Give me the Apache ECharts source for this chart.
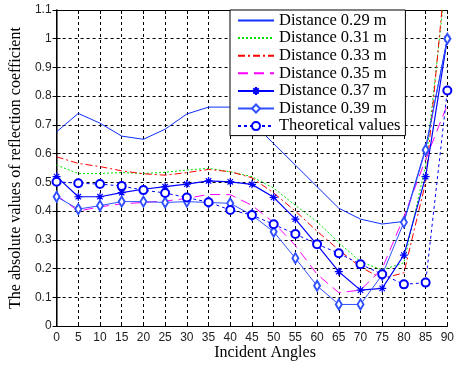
<!DOCTYPE html>
<html>
<head>
<meta charset="utf-8">
<script src="https://cdn.jsdelivr.net/npm/echarts@6/dist/echarts.min.js"></script>
<style>
  html, body {margin: 0; padding: 0; background: #fff;}
  #chart {width: 457px; height: 367px;}
</style>
</head>
<body>
<div id="chart"></div>
<script>
// incident angles (deg)
const angles = [0, 5, 10, 15, 20, 25, 30, 35, 40, 45, 50, 55, 60, 65, 70, 75, 80, 85, 90]
const yTicks = [0, 0.1, 0.2, 0.3, 0.4, 0.5, 0.6, 0.7, 0.8, 0.9, 1, 1.1]

const d029 = [0.676, 0.74, 0.706, 0.661, 0.65, 0.685, 0.738, 0.762, 0.762, 0.71, 0.635, 0.56, 0.485, 0.41, 0.372, 0.355, 0.364, 0.62, 1.0]
const d031 = [0.56, 0.531, 0.531, 0.534, 0.531, 0.535, 0.543, 0.549, 0.537, 0.52, 0.48, 0.42, 0.363, 0.29, 0.224, 0.195, 0.22, 0.56, 1.25]
const d033 = [0.589, 0.566, 0.555, 0.54, 0.53, 0.525, 0.534, 0.545, 0.537, 0.516, 0.463, 0.40, 0.33, 0.265, 0.205, 0.165, 0.185, 0.5, 1.3]
const d035 = [0.455, 0.40, 0.415, 0.425, 0.43, 0.435, 0.444, 0.458, 0.457, 0.42, 0.36, 0.28, 0.18, 0.116, 0.125, 0.2, 0.38, 0.58, 0.77]
const d037 = [0.52, 0.45, 0.45, 0.464, 0.476, 0.485, 0.494, 0.505, 0.502, 0.493, 0.448, 0.372, 0.282, 0.189, 0.125, 0.131, 0.247, 0.52, 1.0]
const d039 = [0.45, 0.407, 0.419, 0.433, 0.433, 0.43, 0.433, 0.43, 0.427, 0.386, 0.328, 0.236, 0.14, 0.075, 0.075, 0.178, 0.361, 0.613, 1.0]
const theory = [0.502, 0.497, 0.494, 0.487, 0.473, 0.463, 0.447, 0.431, 0.404, 0.386, 0.354, 0.32, 0.285, 0.253, 0.215, 0.18, 0.145, 0.151, 0.82]

const names = ['Distance 0.29 m', 'Distance 0.31 m', 'Distance 0.33 m', 'Distance 0.35 m',
  'Distance 0.37 m', 'Distance 0.39 m', 'Theoretical values']

const serif = 'Liberation Serif'
const sans = 'Liberation Sans'
const asterisk = 'path://M0,5L10,5M5,0L5,10M1.6,1.6L8.4,8.4M8.4,1.6L1.6,8.4'

const pairs = vals => angles.map((a, i) => [a, vals[i]])

const chart = echarts.init(document.getElementById('chart'))
chart.setOption({
  animation: false,
  backgroundColor: '#fff',
  grid: {left: 52, right: 4, top: 10, bottom: 41},
  legend: {
    orient: 'vertical',
    left: 230,
    top: 10,
    padding: [2, 5, 1, 7],
    itemGap: 0.6,
    itemWidth: 36,
    itemHeight: 10,
    backgroundColor: '#fff',
    borderColor: '#000',
    borderWidth: 1,
    textStyle: {fontFamily: serif, fontSize: 16.5, color: '#000'},
    // the plain-line entries get no marker in the key
    data: names.map((n, i) => i < 4 ? {name: n, itemStyle: {opacity: 0}} : {name: n})
  },
  xAxis: [{
    type: 'value',
    min: 0,
    max: 90,
    interval: 5,
    axisLine: {lineStyle: {color: '#000', width: 1}},
    axisTick: {inside: true, length: 4, lineStyle: {color: '#000'}},
    axisLabel: {fontFamily: sans, fontSize: 12, color: '#222', margin: 6},
    splitLine: {show: true, lineStyle: {color: '#000', type: [3, 3], width: 1}}
  }, {
    type: 'value', position: 'top', min: 0, max: 90, interval: 5,
    axisLine: {show: true, onZero: false, lineStyle: {color: '#000'}},
    axisTick: {inside: true, length: 4, lineStyle: {color: '#000'}},
    axisLabel: {show: false}, splitLine: {show: false}
  }],
  yAxis: [{
    type: 'value',
    min: 0,
    max: 1.1,
    interval: 0.1,
    name: 'The absolute values of reflection coefficient',
    nameLocation: 'middle',
    nameGap: 28,
    nameTextStyle: {fontFamily: serif, fontSize: 16, color: '#000'},
    axisLine: {show: true, lineStyle: {color: '#444', width: 1.5}},
    axisTick: {show: true, inside: true, length: 4, lineStyle: {color: '#000'}},
    axisLabel: {fontFamily: sans, fontSize: 12, color: '#222', margin: 5,
      formatter: v => String(+v.toFixed(1))},
    splitLine: {show: true, lineStyle: {color: '#000', type: [3, 3], width: 1}}
  }, {
    type: 'value', position: 'right', min: 0, max: 1.1, interval: 0.1,
    axisLine: {show: true, lineStyle: {color: '#000'}},
    axisTick: {show: true, inside: true, length: 4, lineStyle: {color: '#000'}},
    axisLabel: {show: false}, splitLine: {show: false}
  }],
  graphic: [{
    type: 'text',
    style: {x: 265, y: 353, text: 'Incident Angles', align: 'center', verticalAlign: 'middle',
      fontFamily: serif, fontSize: 16, fill: '#000'}
  }],
  series: [
    {name: names[0], data: pairs(d029), color: '#1030ff',
      symbol: 'none', lineStyle: {type: 'solid'}},
    {name: names[1], data: pairs(d031), color: '#00e000',
      symbol: 'none', lineStyle: {type: [2, 2]}},
    {name: names[2], data: pairs(d033), color: '#ff0000',
      symbol: 'none', lineStyle: {type: [7, 3, 2, 3]}},
    {name: names[3], data: pairs(d035), color: '#ff00ff',
      symbol: 'none', lineStyle: {type: [10, 6]}},
    {name: names[4], data: pairs(d037), color: '#0000ff',
      symbol: asterisk, symbolSize: 8, lineStyle: {type: 'solid', width: 1.2},
      itemStyle: {color: '#0000ff', borderColor: '#0000ff', borderWidth: 1.2}},
    {name: names[5], data: pairs(d039), color: '#3050ff',
      symbol: 'emptyDiamond', symbolSize: [6, 10], lineStyle: {type: 'solid'},
      itemStyle: {borderWidth: 0.8}},
    {name: names[6], data: pairs(theory), color: '#0000ff',
      symbol: 'emptyCircle', symbolSize: 8, lineStyle: {type: [3, 3]},
      itemStyle: {borderWidth: 0.8}}
  ].map(s => ({
    ...s,
    type: 'line',
    clip: true,
    showAllSymbol: true,
    lineStyle: {width: 1, ...s.lineStyle}
  }))
})
</script>
</body>
</html>
